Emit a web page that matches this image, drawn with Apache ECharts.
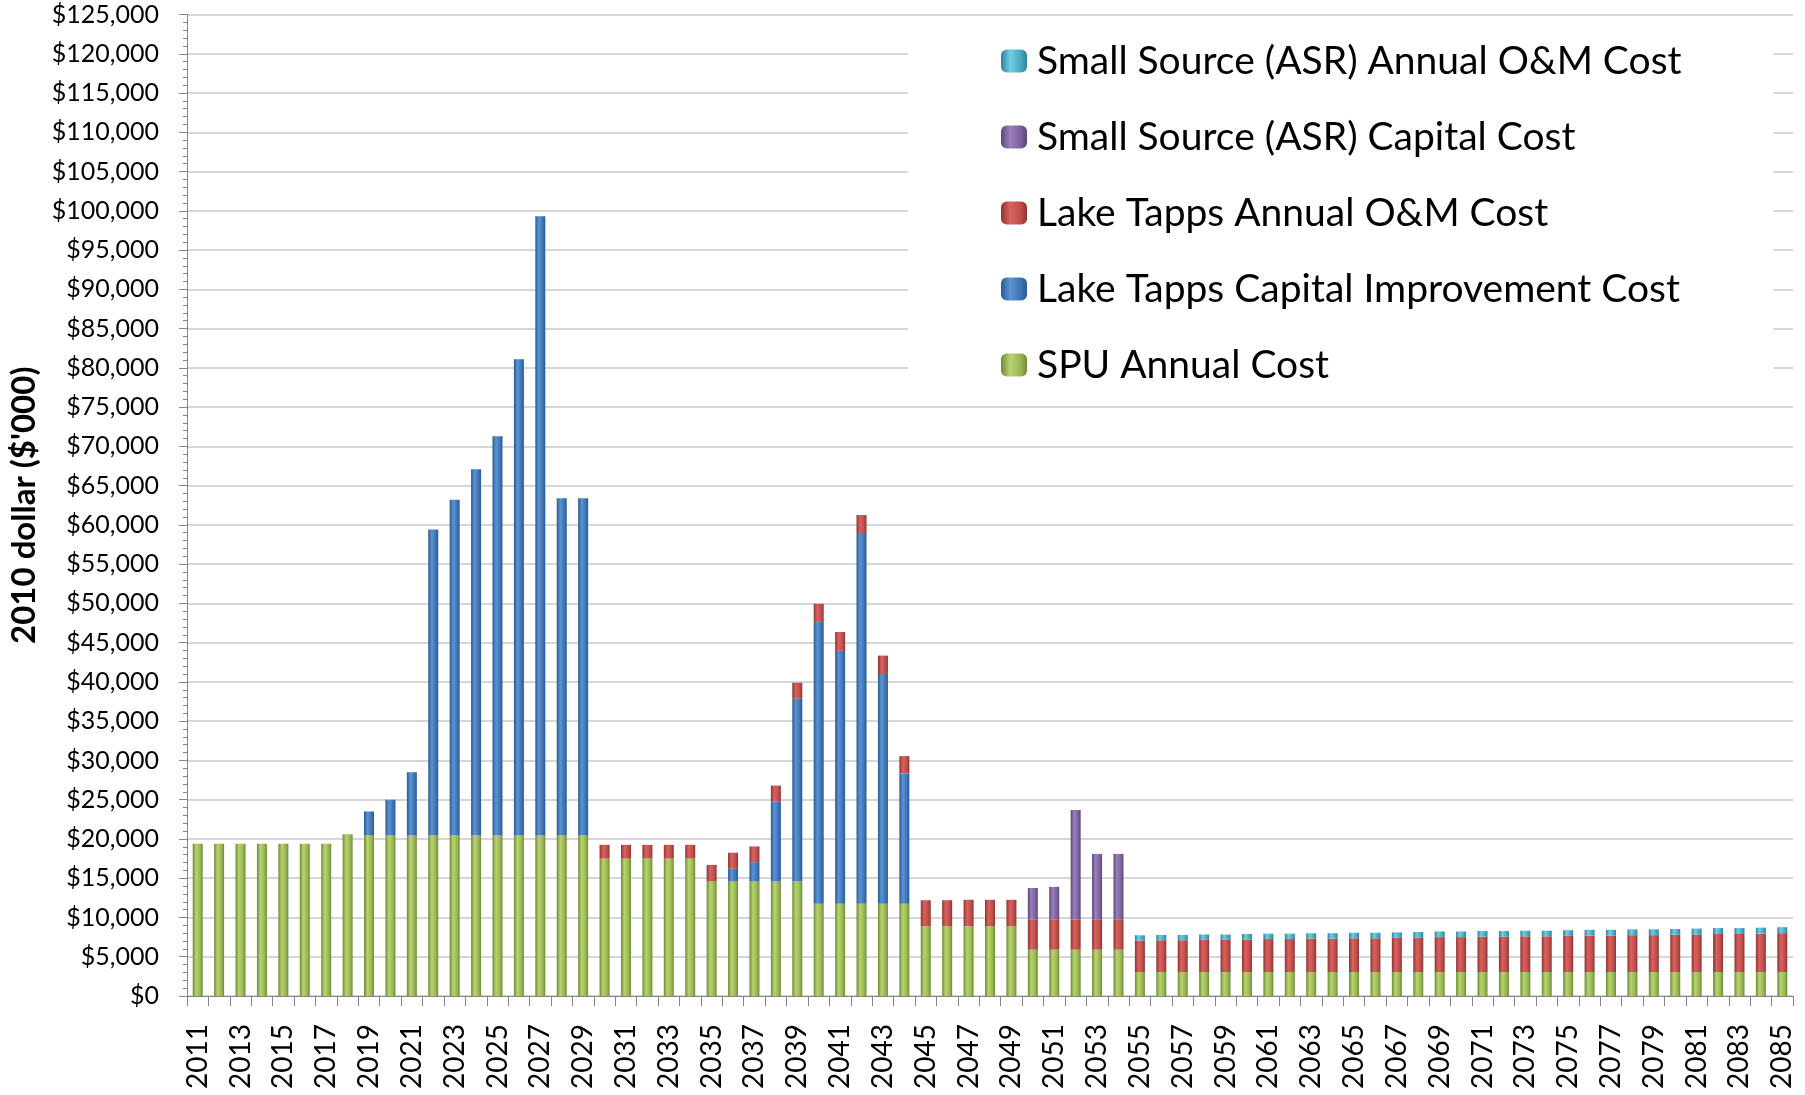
<!DOCTYPE html>
<html>
<head>
<meta charset="utf-8">
<script src="https://cdn.jsdelivr.net/npm/echarts@6/dist/echarts.min.js"></script>
<style>
    html, body { margin: 0; padding: 0; background: #fff; }
    #chart { width: 1805px; height: 1095px; }
</style>
</head>
<body>
<div id="chart"></div>
<script>
// years 2011..2085
var years = [];
for (var y = 2011; y <= 2085; y++) {
    years.push(String(y));
}

var spuCost = [
    19400, 19400, 19400, 19400, 19400, 19400, 19400,
    20600,
    20500, 20500, 20500, 20500, 20500, 20500, 20500, 20500, 20500, 20500, 20500,
    17500, 17500, 17500, 17500, 17500,
    14600, 14600, 14600, 14600, 14600,
    11750, 11750, 11750, 11750, 11750,
    8900, 8900, 8900, 8900, 8900,
    5900, 5900, 5900, 5900, 5900,
    3050, 3050, 3050, 3050, 3050, 3050, 3050, 3050, 3050, 3050,
    3050, 3050, 3050, 3050, 3050, 3050, 3050, 3050, 3050, 3050,
    3050, 3050, 3050, 3050, 3050, 3050, 3050, 3050, 3050, 3050, 3050
];

var lakeTappsCapital = [
    0, 0, 0, 0, 0, 0, 0, 0,
    3000, 4500, 8000, 38900, 42700, 46600, 50800, 60600, 78800, 42900, 42900,
    0, 0, 0, 0, 0, 0,
    1600, 2450, 10200, 23250, 35900, 32200, 47200, 29250, 16600,
    0, 0, 0, 0, 0, 0, 0, 0, 0, 0,
    0, 0, 0, 0, 0, 0, 0, 0, 0, 0,
    0, 0, 0, 0, 0, 0, 0, 0, 0, 0,
    0, 0, 0, 0, 0, 0, 0, 0, 0, 0, 0
];

var lakeTappsOM = [
    0, 0, 0, 0, 0, 0, 0, 0, 0, 0,
    0, 0, 0, 0, 0, 0, 0, 0, 0,
    1750, 1750, 1750, 1750, 1750,
    2100, 2050, 2000, 2000, 2050,
    2300, 2400, 2300, 2350, 2200,
    3300, 3300, 3350, 3350, 3350,
    3800, 3800, 3800, 3800, 3800,
    4000, 4050, 4050, 4100, 4100, 4150, 4200, 4200, 4250, 4250,
    4300, 4300, 4350, 4400, 4450, 4450, 4500, 4500, 4550, 4550,
    4600, 4650, 4650, 4700, 4700, 4750, 4800, 4850, 4850, 4900, 4950
];

var asrCapital = [
    0, 0, 0, 0, 0, 0, 0, 0, 0, 0,
    0, 0, 0, 0, 0, 0, 0, 0, 0, 0,
    0, 0, 0, 0, 0, 0, 0, 0, 0, 0,
    0, 0, 0, 0, 0, 0, 0, 0, 0,
    4050, 4200, 14000, 8400, 8400,
    0, 0, 0, 0, 0, 0, 0, 0, 0, 0,
    0, 0, 0, 0, 0, 0, 0, 0, 0, 0,
    0, 0, 0, 0, 0, 0, 0, 0, 0, 0, 0
];

var asrOM = [
    0, 0, 0, 0, 0, 0, 0, 0, 0, 0,
    0, 0, 0, 0, 0, 0, 0, 0, 0, 0,
    0, 0, 0, 0, 0, 0, 0, 0, 0, 0,
    0, 0, 0, 0, 0, 0, 0, 0, 0, 0,
    0, 0, 0, 0,
    680, 680, 680, 680, 680, 690, 690, 690, 690, 700,
    700, 700, 700, 700, 720, 720, 720, 720, 720, 720,
    730, 730, 730, 740, 740, 740, 740, 750, 750, 750, 760
];

var seriesNames = [
    "SPU Annual Cost",
    "Lake Tapps Capital Improvement Cost",
    "Lake Tapps Annual O&M Cost",
    "Small Source (ASR) Capital Cost",
    "Small Source (ASR) Annual O&M Cost"
];

function barColor(dark, light, base) {
    return new echarts.graphic.LinearGradient(0, 0, 1, 0, [
        { offset: 0, color: dark },
        { offset: 0.35, color: light },
        { offset: 0.75, color: base },
        { offset: 1, color: dark }
    ]);
}

var colors = [
    barColor("#6f8a36", "#b8d46e", "#97b753"),
    barColor("#2a5a92", "#5c93d3", "#3c74b6"),
    barColor("#8e3330", "#d9625f", "#be4e4b"),
    barColor("#5c4778", "#9b80bd", "#7d61a0"),
    barColor("#2f8298", "#6fcde3", "#48a9c4")
];

var values = [spuCost, lakeTappsCapital, lakeTappsOM, asrCapital, asrOM];

var chart = echarts.init(document.getElementById("chart"));

chart.setOption({
    animation: false,
    textStyle: { fontFamily: "Lato" },
    grid: {
        left: 187,
        right: 12,
        top: 14.5,
        bottom: 99,
        outerBoundsMode: "none"
    },
    legend: {
        orient: "vertical",
        left: 908,
        top: 20,
        backgroundColor: "#fff",
        padding: [18, 92, 10, 93],
        itemWidth: 26,
        itemHeight: 23,
        itemGap: 30,
        selectedMode: false,
        data: seriesNames.slice().reverse(),
        textStyle: {
            fontFamily: "Lato",
            fontSize: 39,
            lineHeight: 46,
            color: "#000",
            padding: [0, 0, 0, 5]
        }
    },
    xAxis: {
        type: "category",
        data: years,
        axisLine: { lineStyle: { color: "#868686", width: 1 } },
        axisTick: {
            show: true,
            interval: 0,
            length: 10,
            lineStyle: { color: "#868686" }
        },
        axisLabel: {
            interval: 1,
            rotate: 90,
            margin: 28,
            fontSize: 28,
            color: "#000",
            fontFamily: "Lato"
        }
    },
    yAxis: {
        type: "value",
        min: 0,
        max: 125000,
        interval: 5000,
        name: "2010 dollar ($'000)",
        nameLocation: "middle",
        nameGap: 143,
        nameTextStyle: {
            fontFamily: "Lato",
            fontWeight: "bold",
            fontSize: 33,
            color: "#000"
        },
        axisLine: { show: true, lineStyle: { color: "#868686", width: 1 } },
        axisTick: { show: true, length: 8, lineStyle: { color: "#868686" } },
        minorTick: { show: true, splitNumber: 5, length: 4, lineStyle: { color: "#868686" } },
        splitLine: { lineStyle: { color: "#c8c8c8", width: 1.5 } },
        axisLabel: {
            margin: 28,
            fontSize: 25,
            color: "#000",
            fontFamily: "Lato",
            formatter: function (v) {
                return "$" + v.toLocaleString("en-US");
            }
        }
    },
    series: values.map(function (data, i) {
        return {
            name: seriesNames[i],
            type: "bar",
            stack: "total",
            barWidth: 10,
            itemStyle: { color: colors[i] },
            data: data
        };
    })
});
</script>
</body>
</html>
